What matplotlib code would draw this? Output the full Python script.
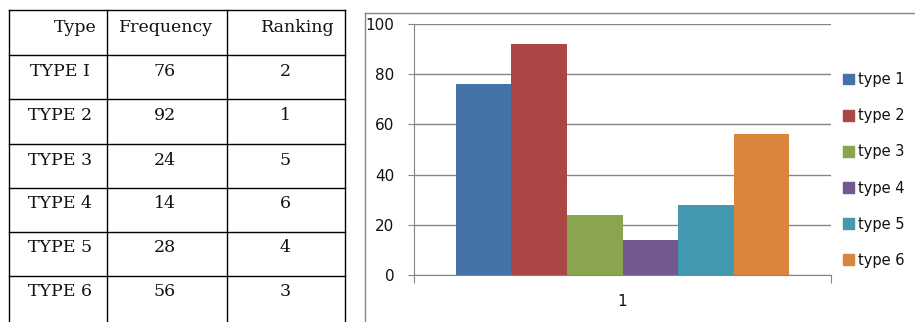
import matplotlib.pyplot as plt
from matplotlib.lines import Line2D
from matplotlib.patches import Patch

types = ["TYPE I", "TYPE 2", "TYPE 3", "TYPE 4", "TYPE 5", "TYPE 6"]
frequency = [76, 92, 24, 14, 28, 56]
ranking = [2, 1, 5, 6, 4, 3]
series = ["type 1", "type 2", "type 3", "type 4", "type 5", "type 6"]
colors = ["#4572A7", "#AA4643", "#89A54E", "#71588F", "#4198AF", "#DB843D"]
yticks = [0, 20, 40, 60, 80, 100]

W, H = 915, 322
fig = plt.figure(figsize=(W / 100, H / 100), dpi=100)


def fx(x):
    return x / W


def fy(y):
    return 1 - y / H


# ---- table on the left ----
col_x = [9, 107, 227, 345]
row_y = [10, 55, 99, 144, 188, 232, 276]
for x in col_x:
    fig.add_artist(Line2D([fx(x), fx(x)], [fy(row_y[0]), 0], color="black", lw=1))
for y in row_y:
    fig.add_artist(Line2D([fx(col_x[0]), fx(col_x[-1])], [fy(y), fy(y)], color="black", lw=1))

tfont = dict(family="DejaVu Serif", fontsize=12.5, color="#111111")
fig.text(fx(97), fy(27), "Type", ha="right", va="center", **tfont)
fig.text(fx(166), fy(27), "Frequency", ha="center", va="center", **tfont)
fig.text(fx(335), fy(27), "Ranking", ha="right", va="center", **tfont)
for i in range(len(types)):
    yc = row_y[i + 1] + 16
    fig.text(fx(60), fy(yc), types[i], ha="center", va="center", **tfont)
    fig.text(fx(165), fy(yc), str(frequency[i]), ha="center", va="center", **tfont)
    fig.text(fx(285), fy(yc), str(ranking[i]), ha="center", va="center", **tfont)

# ---- chart frame ----
gray = "#858585"
fig.add_artist(Line2D([fx(365), 1], [fy(13), fy(13)], color=gray, lw=1))
fig.add_artist(Line2D([fx(365), fx(365)], [fy(13), 0], color=gray, lw=1))

ax = fig.add_axes([fx(414), fy(275), fx(831) - fx(414), fy(24) - fy(275)])
n = len(series)
bw = 1 / (n + 1.5)
for i in range(n):
    ax.bar((i - (n - 1) / 2) * bw, frequency[i], width=bw, color=colors[i], label=series[i], zorder=3)

ax.set_xlim(-0.5, 0.5)
ax.set_ylim(0, 100)
ax.set_yticks(yticks)
ax.yaxis.grid(True, color=gray, lw=1, zorder=0)
ax.set_xticks([-0.5, 0.5])
ax.set_xticklabels(["", ""])
ax.set_xticks([0], minor=True)
ax.set_xticklabels(["1"], minor=True)
ax.tick_params(axis="x", which="major", length=6, color=gray, direction="out")
ax.tick_params(axis="x", which="minor", length=0, pad=14, labelsize=11, labelcolor="#111111")
ax.tick_params(axis="y", length=4, color=gray, pad=10, labelsize=11, labelcolor="#111111")
for s in ["top", "right"]:
    ax.spines[s].set_visible(False)
for s in ["left", "bottom"]:
    ax.spines[s].set_color(gray)

handles = [Patch(color=colors[i], label=series[i]) for i in range(n)]
fig.legend(handles=handles, loc="center left", bbox_to_anchor=(fx(837), fy(170)),
           frameon=False, fontsize=10.5, handlelength=0.75, handleheight=0.75,
           handletextpad=0.3, labelspacing=1.45, borderaxespad=0, labelcolor="#111111")

fig.savefig("out.png", dpi=100)
